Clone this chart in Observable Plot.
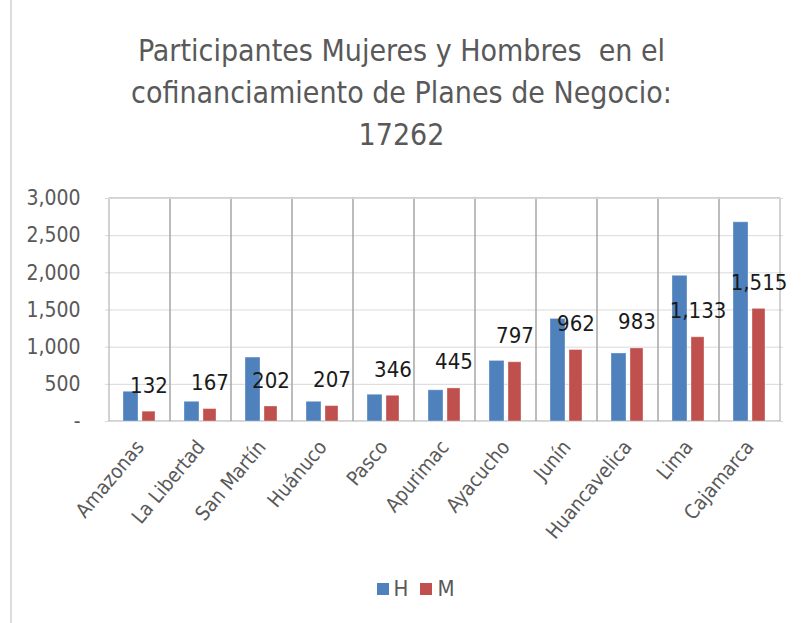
<!DOCTYPE html>
<html><head><meta charset="utf-8">
<script src="https://cdn.jsdelivr.net/npm/d3@7"></script>
<script src="https://cdn.jsdelivr.net/npm/@observablehq/plot@0.6"></script>
<style>
body{margin:0;background:#fff;}
#wrap{position:relative;width:803px;height:623px;overflow:hidden;font-family:"Liberation Sans Narrow","DejaVu Sans Condensed","Open Sans",sans-serif;}
#border{position:absolute;left:10px;top:0;width:2px;height:623px;background:#dcdcdc;}
#title{position:absolute;top:30px;left:0;width:803px;text-align:center;font-size:30px;line-height:42px;color:#595959;}
#chart{position:absolute;top:180px;left:0;}
#legend{position:absolute;top:576px;left:14px;width:803px;display:flex;justify-content:center;align-items:center;font-size:22px;color:#595959;}
.sw{display:inline-block;width:12px;height:12px;margin-right:5px;}
.item{display:flex;align-items:center;margin:0 6px;}
</style></head>
<body>
<div id="wrap">
<div id="border"></div>
<div id="title">Participantes Mujeres y Hombres&nbsp; en el<br>cofinanciamiento de Planes de Negocio:<br>17262</div>
<div id="chart"></div>
<div id="legend"></div>
</div>
<script>
const regions = ["Amazonas","La Libertad","San Martín","Huánuco","Pasco","Apurimac","Ayacucho","Junín","Huancavelica","Lima","Cajamarca"];
const hombres = [400,265,860,265,360,420,815,1380,915,1960,2680];
const mujeres = [132,167,202,207,346,445,797,962,983,1133,1515];
const yTicks = [0,500,1000,1500,2000,2500,3000];
const seriesNames = ["H","M"];
const seriesColors = ["#4f81bd","#c0504d"];

const dataH = regions.map((r,i)=>({region:r,value:hombres[i]}));
const dataM = regions.map((r,i)=>({region:r,value:mujeres[i]}));
const fmt = d3.format(",");
const font = '"Liberation Sans Narrow","DejaVu Sans Condensed","Open Sans",sans-serif';

const plot = Plot.plot({
  width: 803, height: 380,
  marginLeft: 105, marginRight: 20, marginTop: 18, marginBottom: 139,
  style: {fontFamily: font, background: "transparent"},
  x: {domain: regions, padding: 0},
  y: {domain: [0, 3000]},
  marks: [
    Plot.ruleY(yTicks, {stroke: "#d9d9d9"}),
    Plot.barY(regions, {x: d=>d, y1: 0, y2: 3000, fill: "none", stroke: "#a6a6a6"}),
    Plot.ruleY([0, 3000], {stroke: "#d9d9d9"}),
    Plot.barY(dataH, {x: "region", y: "value", fill: seriesColors[0], insetLeft: 14, insetRight: 32, stroke: "#ffffff", strokeOpacity: 0.35}),
    Plot.barY(dataM, {x: "region", y: "value", fill: seriesColors[1], insetLeft: 33, insetRight: 15, stroke: "#ffffff", strokeOpacity: 0.35}),
    Plot.text(dataM, {x: "region", y: "value", text: d=>fmt(d.value), dx: 9, dy: -26, fontSize: 22, fill: "#1a1a1a"}),
    Plot.axisY({ticks: yTicks, tickSize: 0, tickPadding: 25, tickFormat: d=> d===0 ? "-" : fmt(d), label: null, fontSize: 21, fill: "#595959"}),
    Plot.axisX({tickSize: 0, tickPadding: 22, tickRotate: -50, label: null, fontSize: 20, fill: "#595959"})
  ]
});
document.getElementById("chart").appendChild(plot);

const lg = document.getElementById("legend");
seriesNames.forEach((n,i)=>{
  const it = document.createElement("span"); it.className="item";
  const sw = document.createElement("span"); sw.className="sw"; sw.style.background=seriesColors[i];
  it.appendChild(sw); it.appendChild(document.createTextNode(n));
  lg.appendChild(it);
});
</script>
</body></html>
